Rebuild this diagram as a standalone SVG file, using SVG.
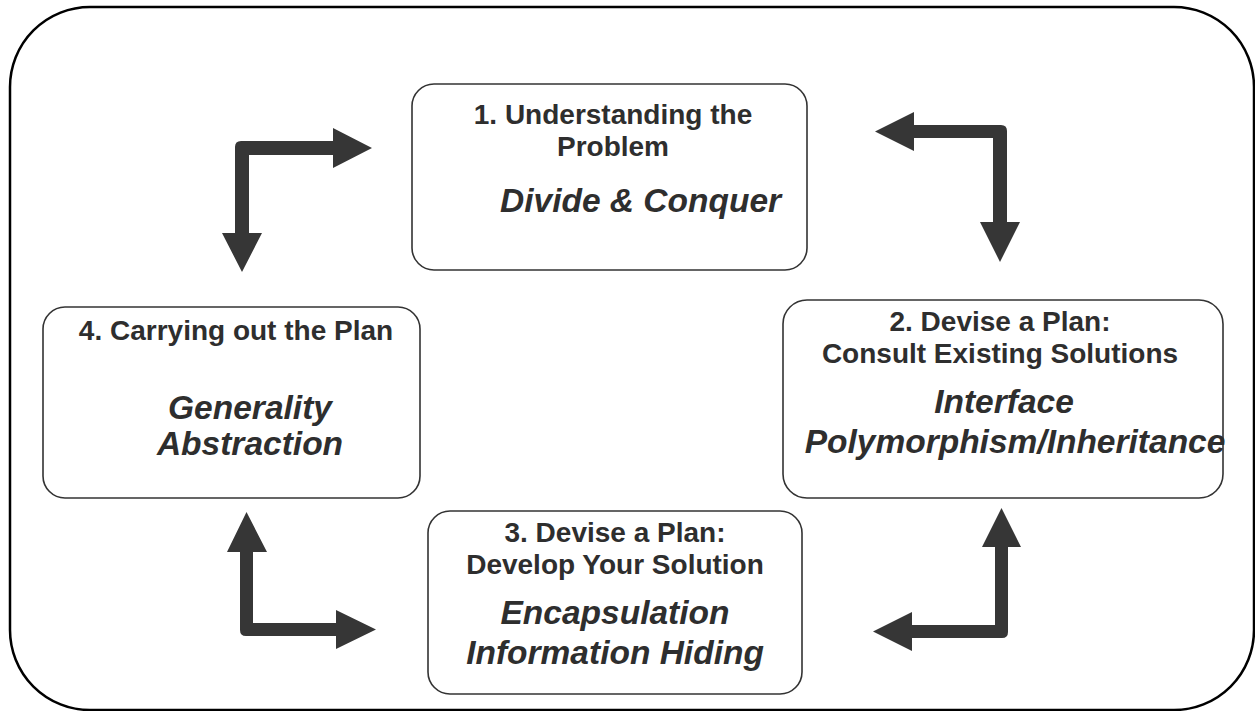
<svg xmlns="http://www.w3.org/2000/svg" width="1255" height="711" viewBox="0 0 1255 711">
<style>
.frame{fill:#fff;stroke:#000;stroke-width:2.5}
.box{fill:#fff;stroke:#333;stroke-width:1.6}
.h{font-family:"Liberation Sans",Arial,sans-serif;font-weight:bold;font-size:28px;fill:#2e2e2e;text-anchor:middle}
.i{font-family:"Liberation Sans",Arial,sans-serif;font-weight:bold;font-style:italic;font-size:33.5px;fill:#2e2e2e;text-anchor:middle}
.arrow{fill:#363636;stroke:none}
</style>
<rect class="frame" x="10" y="7" width="1244" height="703" rx="80" ry="80"/>
<g id="node1">
<rect class="box" x="412" y="84" width="395" height="186" rx="22"/>
<text class="h" x="613" y="124">1. Understanding the</text>
<text class="h" x="613" y="156">Problem</text>
<text class="i" x="500" y="212" style="text-anchor:start">Divide &amp; Conquer</text>
</g>
<g id="node2">
<rect class="box" x="783" y="300" width="440" height="198" rx="24"/>
<text class="h" x="1000" y="331">2. Devise a Plan:</text>
<text class="h" x="1000" y="363">Consult Existing Solutions</text>
<text class="i" x="1004" y="413">Interface</text>
<text class="i" x="1015" y="453">Polymorphism/Inheritance</text>
</g>
<g id="node3">
<rect class="box" x="428" y="511" width="374" height="183" rx="22"/>
<text class="h" x="615" y="542">3. Devise a Plan:</text>
<text class="h" x="615" y="574">Develop Your Solution</text>
<text class="i" x="615" y="624">Encapsulation</text>
<text class="i" x="615" y="664">Information Hiding</text>
</g>
<g id="node4">
<rect class="box" x="43" y="307" width="377" height="191" rx="22"/>
<text class="h" x="236" y="340">4. Carrying out the Plan</text>
<text class="i" x="250" y="419">Generality</text>
<text class="i" x="250" y="455">Abstraction</text>
</g>
<g id="connectors">
<path class="arrow" d="M372,148 L333,168 L333,155 L249,155 L249,233 L262,233 L242,272 L222,233 L235,233 L235,147 Q235,141 241,141 L333,141 L333,128 Z"/>
<path class="arrow" d="M875,131.5 L914,112 L914,125 L1001,125 Q1007,125 1007,131 L1007,222 L1020,222 L1000,262 L980,222 L993,222 L993,138 L914,138 L914,151 Z"/>
<path class="arrow" d="M246.5,512 L267,552 L253,552 L253,623 L336,623 L336,610 L376,629.5 L336,649 L336,636 L246,636 Q240,636 240,630 L240,552 L227,552 Z"/>
<path class="arrow" d="M1001.5,508 L1021,547 L1008,547 L1008,632 Q1008,638 1002,638 L912,638 L912,651 L873,631.5 L912,612 L912,625 L995,625 L995,547 L982,547 Z"/>
</g>
</svg>
